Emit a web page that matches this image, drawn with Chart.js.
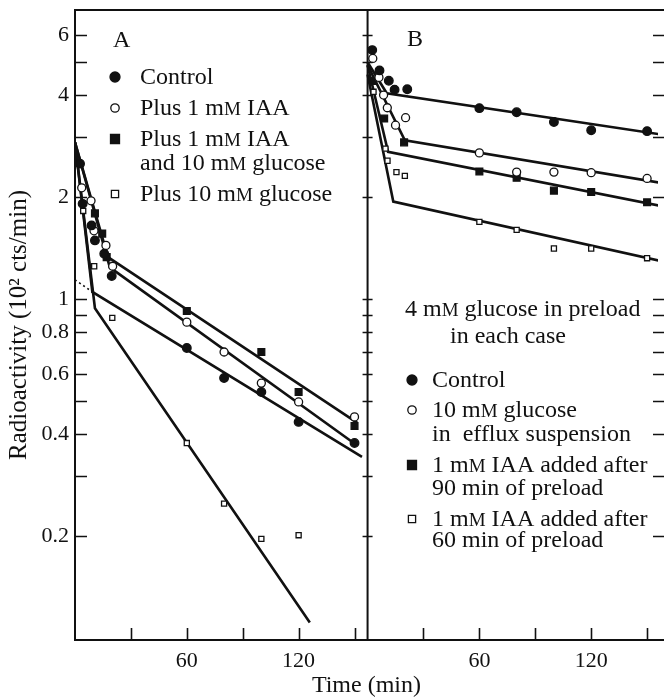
<!DOCTYPE html>
<html>
<head>
<meta charset="utf-8">
<script src="https://cdn.jsdelivr.net/npm/chart.js@4.4.1/dist/chart.umd.min.js"></script>
<style>
  html, body { margin: 0; padding: 0; background: #fff; overflow: hidden; }
  canvas { display: block; }
</style>
</head>
<body>
<canvas id="effluxChart" width="664" height="698"></canvas>
<script>
const SERIF = '"Liberation Serif", "Times New Roman", serif';
const INK = '#111';

// panel B is drawn on the same time axis, shifted right by the width of panel A
const PANEL_SHIFT = 157;
const X_MAX = 312.8;

//  axis ticks
const xTicks = [30, 60, 90, 120, 150];
const xTickLabels = [60, 120];
const yTicks = [0.2, 0.3, 0.4, 0.5, 0.6, 0.7, 0.8, 0.9, 1, 2, 3, 4, 5, 6];
const yTickLabels = [0.2, 0.4, 0.6, 0.8, 1, 2, 4, 6];

//******************************************************************************
//                      Panel A measured points
//******************************************************************************
const aControlTime = [2.7, 4.1, 8.9, 10.7, 15.7, 19.7, 60, 80, 100, 120, 150];
const aControlValue = [2.51, 1.91, 1.65, 1.49, 1.36, 1.17, 0.717, 0.585, 0.532, 0.434, 0.376];
const aIaaTime = [3.6, 8.6, 10.2, 16.6, 20.2, 60, 80, 100, 120, 150];
const aIaaValue = [2.13, 1.95, 1.59, 1.44, 1.25, 0.855, 0.698, 0.565, 0.497, 0.449];
const aIaaGlucoseTime = [10.7, 14.6, 17, 60, 100, 120, 150];
const aIaaGlucoseValue = [1.79, 1.56, 1.33, 0.922, 0.698, 0.532, 0.422];
const aGlucoseTime = [4.4, 10.3, 20, 60, 80, 100, 120];
const aGlucoseValue = [1.82, 1.25, 0.88, 0.376, 0.249, 0.196, 0.201];

//  Panel A fitted lines
const aControlFitTime = [0, 9.3, 154];
const aControlFitValue = [2.9, 1.05, 0.342];
const aControlDotTime = [0, 9.3];
const aControlDotValue = [1.14, 1.05];
const aIaaFitTime = [0, 18.7, 149];
const aIaaFitValue = [2.9, 1.24, 0.378];
const aIaaGlucoseFitTime = [0, 17.7, 151.5];
const aIaaGlucoseFitValue = [2.9, 1.33, 0.431];
const aGlucoseFitTime = [0, 10.7, 126];
const aGlucoseFitValue = [2.9, 0.94, 0.111];

//******************************************************************************
//                      Panel B measured points
//******************************************************************************
const bControlTime = [2.5, 6.4, 11.4, 14.5, 21.3, 60, 80, 100, 120, 150];
const bControlValue = [5.43, 4.73, 4.41, 4.15, 4.16, 3.66, 3.56, 3.33, 3.15, 3.13];
const bGlucoseTime = [2.8, 6.1, 8.6, 10.6, 15, 20.4, 60, 80, 100, 120, 150];
const bGlucoseValue = [5.13, 4.51, 4.0, 3.67, 3.26, 3.43, 2.70, 2.37, 2.37, 2.36, 2.27];
const bIaa90Time = [3, 8.9, 19.6, 60, 80, 100, 120, 150];
const bIaa90Value = [4.4, 3.41, 2.9, 2.38, 2.28, 2.09, 2.07, 1.93];
const bIaa60Time = [3.2, 9.6, 10.7, 15.5, 20, 60, 80, 100, 120, 150];
const bIaa60Value = [4.09, 2.78, 2.56, 2.37, 2.31, 1.69, 1.60, 1.41, 1.41, 1.32];

//  Panel B fitted lines
const bControlFitTime = [0, 10.3, 156];
const bControlFitValue = [5.0, 4.05, 3.07];
const bGlucoseFitTime = [0, 20, 156];
const bGlucoseFitValue = [4.9, 2.94, 2.21];
const bIaa90FitTime = [0, 11, 156];
const bIaa90FitValue = [4.9, 2.72, 1.89];
const bIaa60FitTime = [0, 13.8, 156];
const bIaa60FitValue = [4.6, 1.94, 1.30];

//******************************************************************************
//                      Legend texts
//******************************************************************************
const legendA = [
  { marker: 'dot', lines: ['Control'] },
  { marker: 'ring', lines: ['Plus 1 mM IAA'] },
  { marker: 'block', lines: ['Plus 1 mM IAA', 'and 10 mM glucose'] },
  { marker: 'box', lines: ['Plus 10 mM glucose'] }
];
const legendBHeader = ['4 mM glucose in preload', 'in each case'];
const legendB = [
  { marker: 'dot', lines: ['Control'] },
  { marker: 'ring', lines: ['10 mM glucose', 'in  efflux suspension'] },
  { marker: 'block', lines: ['1 mM IAA added after', '90 min of preload'] },
  { marker: 'box', lines: ['1 mM IAA added after', '60 min of preload'] }
];

//******************************************************************************
//                      Dataset builders
//******************************************************************************
const markerStyles = {
  dot:   { pointStyle: 'circle', radius: 4.3, fill: INK },
  ring:  { pointStyle: 'circle', radius: 4, fill: '#fff' },
  block: { pointStyle: 'rect', radius: 4.8, fill: INK },
  box:   { pointStyle: 'rect', radius: 3.6, fill: '#fff' }
};

function pointSet(times, values, shift, marker) {
  let style = markerStyles[marker];
  return {
    data: times.map((t, i) => ({ x: t + shift, y: values[i] })),
    showLine: false,
    pointStyle: style.pointStyle,
    pointRadius: style.radius,
    backgroundColor: style.fill,
    borderColor: INK,
    borderWidth: 1.3,
    order: 1
  };
}

function fitSet(times, values, shift, dash) {
  return {
    data: times.map((t, i) => ({ x: t + shift, y: values[i] })),
    showLine: true,
    borderColor: INK,
    borderWidth: dash ? 1.6 : 2.6,
    borderDash: dash || [],
    pointRadius: 0,
    tension: 0,
    fill: false,
    order: 2
  };
}

const datasets = [
  pointSet(aControlTime, aControlValue, 0, 'dot'),
  pointSet(aIaaTime, aIaaValue, 0, 'ring'),
  pointSet(aIaaGlucoseTime, aIaaGlucoseValue, 0, 'block'),
  pointSet(aGlucoseTime, aGlucoseValue, 0, 'box'),
  pointSet(bControlTime, bControlValue, PANEL_SHIFT, 'dot'),
  pointSet(bGlucoseTime, bGlucoseValue, PANEL_SHIFT, 'ring'),
  pointSet(bIaa90Time, bIaa90Value, PANEL_SHIFT, 'block'),
  pointSet(bIaa60Time, bIaa60Value, PANEL_SHIFT, 'box'),
  fitSet(aControlFitTime, aControlFitValue, 0),
  fitSet(aControlDotTime, aControlDotValue, 0, [2, 3]),
  fitSet(aIaaFitTime, aIaaFitValue, 0),
  fitSet(aIaaGlucoseFitTime, aIaaGlucoseFitValue, 0),
  fitSet(aGlucoseFitTime, aGlucoseFitValue, 0),
  fitSet(bControlFitTime, bControlFitValue, PANEL_SHIFT),
  fitSet(bGlucoseFitTime, bGlucoseFitValue, PANEL_SHIFT),
  fitSet(bIaa90FitTime, bIaa90FitValue, PANEL_SHIFT),
  fitSet(bIaa60FitTime, bIaa60FitValue, PANEL_SHIFT)
];

//******************************************************************************
//  Text helper: draws "mM" with a small capital M, baseline at y
//******************************************************************************
function drawRichText(ctx, text, x, y, size) {
  let cx = x;
  for (let part of text.split(/(mM)/)) {
    if (part === 'mM') {
      ctx.font = size + 'px ' + SERIF;
      ctx.fillText('m', cx, y);
      cx += ctx.measureText('m').width;
      ctx.font = Math.round(size * 0.78) + 'px ' + SERIF;
      ctx.fillText('M', cx, y);
      cx += ctx.measureText('M').width;
    } else {
      ctx.font = size + 'px ' + SERIF;
      ctx.fillText(part, cx, y);
      cx += ctx.measureText(part).width;
    }
  }
}

function drawMarker(ctx, marker, x, y) {
  ctx.lineWidth = 1.3;
  ctx.strokeStyle = INK;
  ctx.fillStyle = (marker === 'dot' || marker === 'block') ? INK : '#fff';
  ctx.beginPath();
  if (marker === 'dot') ctx.arc(x, y, 5, 0, Math.PI * 2);
  if (marker === 'ring') ctx.arc(x, y, 4.2, 0, Math.PI * 2);
  if (marker === 'block') ctx.rect(x - 4.5, y - 4.5, 9, 9);
  if (marker === 'box') ctx.rect(x - 3.6, y - 3.6, 7.2, 7.2);
  ctx.fill();
  ctx.stroke();
}

function drawLegend(ctx, entries, markerX, textX, baselines, size) {
  let row = 0;
  for (let entry of entries) {
    drawMarker(ctx, entry.marker, markerX, baselines[row] - 7);
    for (let line of entry.lines) {
      ctx.fillStyle = INK;
      drawRichText(ctx, line, textX, baselines[row], size);
      row += 1;
    }
  }
}

//******************************************************************************
//  Frame plugin: box, panel divider, inward tick marks, panel letters, keys
//  (the right-hand frame edge of panel B lies just past the picture edge)
//******************************************************************************
const framePlugin = {
  id: 'frame',
  afterDraw(chart) {
    const ctx = chart.ctx;
    const area = chart.chartArea;
    const xs = chart.scales.x;
    const ys = chart.scales.y;
    const mid = xs.getPixelForValue(PANEL_SHIFT);
    const edge = chart.width;

    ctx.save();
    ctx.strokeStyle = INK;
    ctx.lineWidth = 2;
    ctx.beginPath();
    ctx.moveTo(edge, area.top);
    ctx.lineTo(area.left, area.top);
    ctx.lineTo(area.left, area.bottom);
    ctx.lineTo(edge, area.bottom);
    ctx.moveTo(mid, area.top);
    ctx.lineTo(mid, area.bottom);
    ctx.stroke();

    ctx.lineWidth = 1.6;
    ctx.beginPath();
    for (let v of yTicks) {
      let py = Math.round(ys.getPixelForValue(v)) + 0.5;
      ctx.moveTo(area.left, py);
      ctx.lineTo(area.left + 12, py);
      ctx.moveTo(mid - 5, py);
      ctx.lineTo(mid + 5, py);
      ctx.moveTo(edge, py);
      ctx.lineTo(edge - 11, py);
    }
    for (let t of xTicks) {
      for (let shift of [0, PANEL_SHIFT]) {
        let px = Math.round(xs.getPixelForValue(t + shift)) + 0.5;
        ctx.moveTo(px, area.bottom);
        ctx.lineTo(px, area.bottom - 12);
      }
    }
    ctx.stroke();

    ctx.fillStyle = INK;
    ctx.textBaseline = 'alphabetic';
    ctx.textAlign = 'left';
    ctx.font = '24px ' + SERIF;
    ctx.fillText('A', 113, 47);
    ctx.fillText('B', 407, 46);

    drawLegend(ctx, legendA, 115, 140, [84, 115, 146, 170, 201], 24);
    drawRichText(ctx, legendBHeader[0], 405, 316, 24);
    drawRichText(ctx, legendBHeader[1], 450, 343, 24);
    drawLegend(ctx, legendB, 412, 432, [387, 417, 441, 472, 495, 526, 547], 24);
    ctx.restore();
  }
};

//******************************************************************************
//                           Build the chart
//******************************************************************************
const effluxChart = new Chart(document.getElementById('effluxChart').getContext('2d'), {
  type: 'scatter',
  data: { datasets: datasets },
  options: {
    responsive: false,
    animation: false,
    events: [],
    layout: { padding: { top: 10, right: 0, bottom: 0, left: 0 } },
    plugins: { legend: { display: false }, tooltip: { enabled: false } },
    scales: {
      x: {
        type: 'linear',
        min: 0,
        max: X_MAX,
        bounds: 'data',
        grid: { display: false, drawTicks: false },
        border: { display: false },
        afterBuildTicks: (scale) => {
          scale.ticks = xTicks.concat(xTicks.map(t => t + PANEL_SHIFT)).map(v => ({ value: v }));
        },
        ticks: {
          autoSkip: false,
          maxRotation: 0,
          padding: 8,
          color: INK,
          font: { family: SERIF, size: 22 },
          callback: (value) => {
            let t = value > PANEL_SHIFT ? value - PANEL_SHIFT : value;
            return xTickLabels.includes(t) ? String(t) : '';
          }
        },
        title: {
          display: true,
          text: 'Time (min)',
          color: INK,
          font: { family: SERIF, size: 24, lineHeight: 0.9 },
          padding: { top: 0, bottom: 1 }
        },
        afterFit: (scale) => {
          scale.height = 58;
          scale.paddingLeft = 0;
          scale.paddingRight = 0;
        }
      },
      y: {
        type: 'logarithmic',
        min: 0.0986,
        max: 7.13,
        bounds: 'data',
        grid: { display: false, drawTicks: false },
        border: { display: false },
        afterBuildTicks: (scale) => {
          scale.ticks = yTicks.map(v => ({ value: v }));
        },
        ticks: {
          autoSkip: false,
          padding: 6,
          color: INK,
          font: { family: SERIF, size: 22 },
          callback: (value) => yTickLabels.includes(value) ? String(value) : ''
        },
        title: {
          display: true,
          text: 'Radioactivity (10\u00B2 cts/min)',
          color: INK,
          font: { family: SERIF, size: 25, lineHeight: 1.2 },
          padding: { top: 4, bottom: 0 }
        },
        afterFit: (scale) => {
          scale.width = 75;
          scale.paddingTop = 0;
          scale.paddingBottom = 0;
        }
      }
    }
  },
  plugins: [framePlugin]
});
</script>
</body>
</html>
